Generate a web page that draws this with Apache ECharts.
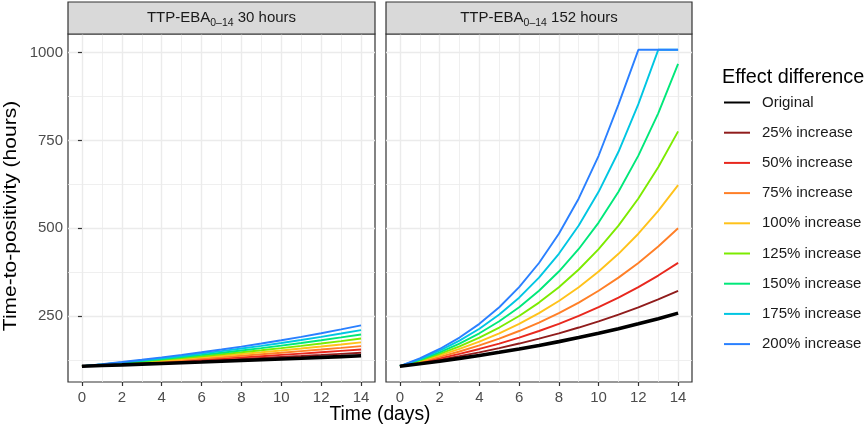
<!DOCTYPE html>
<html><head><meta charset="utf-8">
<script src="https://cdn.jsdelivr.net/npm/echarts@6/dist/echarts.min.js"></script>
<style>html,body{margin:0;padding:0;background:#fff}#c{width:865px;height:430px}</style>
</head><body><div id="c"></div>
<script>
// ---- data ----
const days = [0,1,2,3,4,5,6,7,8,9,10,11,12,13,14];
const seriesNames = ['Original','25% increase','50% increase','75% increase','100% increase','125% increase','150% increase','175% increase','200% increase'];
const panelTitles = ['30 hours','152 hours'];
const xTickValues = [0,2,4,6,8,10,12,14];
const yTickValues = [250,500,750,1000];

// TTP-EBA 30 hours panel
const h30_original = [107,108.9,110.8,112.8,114.8,116.8,118.8,120.9,123.1,125.3,127.5,129.7,132.0,134.3,136.7];
const h30_inc25  = [107,109.4,111.8,114.3,116.8,119.4,122.0,124.7,127.5,130.3,133.2,136.1,139.1,142.2,145.3];
const h30_inc50  = [107,109.8,112.8,115.8,118.8,122.0,125.3,128.6,132.0,135.5,139.1,142.8,146.6,150.5,154.5];
const h30_inc75  = [107,110.3,113.8,117.3,120.9,124.7,128.6,132.6,136.7,141.0,145.3,149.9,154.5,159.3,164.3];
const h30_inc100 = [107,110.8,114.8,118.8,123.1,127.5,132.0,136.7,141.6,146.6,151.8,157.3,162.9,168.7,174.7];
const h30_inc125 = [107,111.3,115.8,120.4,125.3,130.3,135.5,141.0,146.6,152.5,158.6,165.0,171.6,178.5,185.7];
const h30_inc150 = [107,111.8,116.8,122.0,127.5,133.2,139.1,145.3,151.8,158.6,165.7,173.1,180.9,189.0,197.4];
const h30_inc175 = [107,112.3,117.8,123.6,129.7,136.1,142.8,149.9,157.3,165.0,173.1,181.7,190.6,200.0,209.9];
const h30_inc200 = [107,112.8,118.8,125.3,132.0,139.1,146.6,154.5,162.9,171.6,180.9,190.6,200.9,211.7,223.1];

// TTP-EBA 152 hours panel
const h152_original = [107,113.9,121.3,129.2,137.6,146.5,156.1,166.2,177.0,188.5,200.7,213.7,227.6,242.4,258.1];
const h152_inc25  = [107,115.8,125.2,135.5,146.5,158.5,171.5,185.5,200.7,217.1,234.8,254.0,274.8,297.3,321.6];
const h152_inc50  = [107,117.6,129.2,142.0,156.1,171.5,188.5,207.2,227.7,250.2,275.0,302.2,332.2,365.1,401.2];
const h152_inc75  = [107,119.5,133.4,148.9,166.2,185.6,207.2,231.3,258.2,288.2,321.8,359.2,401.0,447.7,499.8];
const h152_inc100 = [107,121.3,137.6,156.1,177.0,200.7,227.6,258.1,292.7,332.0,376.5,427.0,484.2,549.1,622.7];
const h152_inc125 = [107,123.3,142.0,163.6,188.5,217.1,250.1,288.1,331.9,382.4,440.5,507.4,584.6,673.4,775.8];
const h152_inc150 = [107,125.2,146.6,171.5,200.7,234.9,275.0,321.8,376.6,440.8,515.9,603.8,706.6,827.0,967.9];
const h152_inc175 = [107,127.2,151.2,179.8,213.8,254.1,302.1,359.2,427.0,507.7,603.6,717.6,853.1,1008,1008];
const h152_inc200 = [107,129.2,156.1,188.5,227.6,274.9,332.0,400.9,484.2,584.7,706.2,852.8,1008,1008,1008];

const panel30 = [h30_original,h30_inc25,h30_inc50,h30_inc75,h30_inc100,h30_inc125,h30_inc150,h30_inc175,h30_inc200];
const panel152 = [h152_original,h152_inc25,h152_inc50,h152_inc75,h152_inc100,h152_inc125,h152_inc150,h152_inc175,h152_inc200];

// ---- style ----
const colors = ['#000000','#901C1C','#E8281E','#FF7F27','#FFC21A','#7CEB00','#00E87A','#00C6E2','#2A80FF'];
const FONT = 'Liberation Sans, Arial, sans-serif';
const xMinor = [1,3,5,7,9,11,13];
const yMinor = [125,375,625,875];
const XMIN = -0.7, XMAX = 14.7, YMIN = 62, YMAX = 1053;
const grids = [
  {left:68, top:34, width:307, height:348, show:true, borderColor:'#333333', borderWidth:1.2, backgroundColor:'transparent'},
  {left:386, top:34, width:306, height:348, show:true, borderColor:'#333333', borderWidth:1.2, backgroundColor:'transparent'}
];

const xAxes = [], yAxes = [];
[0,1].forEach(g => {
  xAxes.push({type:'value', gridIndex:g, min:XMIN, max:XMAX, position:'bottom',
    axisLine:{show:false},
    axisTick:{show:true, length:4, lineStyle:{color:'#333333', width:1.2}, customValues:xTickValues},
    axisLabel:{show:true, customValues:xTickValues, color:'#4D4D4D', fontSize:15, fontFamily:FONT, margin:8.5,
      formatter: v => String(v)},
    splitLine:{show:true, lineStyle:{color:'#EBEBEB', width:1.4}}, z:0});
  xAxes.push({type:'value', gridIndex:g, min:XMIN, max:XMAX, position:'bottom',
    axisLine:{show:false}, axisTick:{show:false, customValues:xMinor},
    axisLabel:{show:false, customValues:xMinor},
    splitLine:{show:true, lineStyle:{color:'#EBEBEB', width:0.8}}, z:0});
  yAxes.push({type:'value', gridIndex:g, min:YMIN, max:YMAX, position:'left',
    axisLine:{show:false},
    axisTick:{show:g===0, length:4, lineStyle:{color:'#333333', width:1.2}, customValues:yTickValues},
    axisLabel:{show:g===0, customValues:yTickValues, color:'#4D4D4D', fontSize:15, fontFamily:FONT, margin:5,
      formatter: v => String(v)},
    splitLine:{show:true, lineStyle:{color:'#EBEBEB', width:1.4}}, z:0});
  yAxes.push({type:'value', gridIndex:g, min:YMIN, max:YMAX, position:'right',
    axisLine:{show:false}, axisTick:{show:false, customValues:yMinor},
    axisLabel:{show:false, customValues:yMinor},
    splitLine:{show:true, lineStyle:{color:'#EBEBEB', width:0.8}}, z:0});
});

const series = [];
[panel30, panel152].forEach((panel, g) => {
  panel.forEach((vals, i) => {
    series.push({
      type:'line', name:seriesNames[i], xAxisIndex:g*2, yAxisIndex:g*2,
      data: days.map((d, k) => [d, vals[k]]),
      symbol:'none', smooth:false, silent:true,
      lineStyle:{color:colors[i], width: i===0 ? 3.6 : 1.9},
      itemStyle:{color:colors[i]},
      z: i===0 ? 3 : 2, animation:false
    });
  });
});

function stripText(cx, label) {
  return {type:'text', x:cx, y:18, z:10,
    style:{text:'TTP-EBA{s|0–14} ' + label, align:'center', verticalAlign:'middle',
      fontSize:15, fontFamily:FONT, fill:'#1A1A1A', lineHeight:21,
      rich:{s:{fontSize:10.5, fontFamily:FONT, fill:'#1A1A1A', verticalAlign:'bottom', lineHeight:11}}}};
}

const option = {
  animation:false,
  backgroundColor:'#ffffff',
  color: colors,
  grid: grids,
  xAxis: xAxes,
  yAxis: yAxes,
  series: series,
  title: {text:'Effect difference', left:722, top:68, padding:0, textStyle:{fontSize:19.8, fontWeight:'normal', color:'#000', fontFamily:FONT}},
  legend: {orient:'vertical', left:723, top:95, padding:0, itemWidth:26, itemHeight:14, itemGap:15.2,
    data: seriesNames, selectedMode:false, itemStyle:{opacity:0},
    textStyle:{fontSize:15, color:'#1A1A1A', fontFamily:FONT, padding:[0,0,0,7]}},
  graphic: [
    {type:'rect', z:9, shape:{x:68, y:2, width:307, height:32}, style:{fill:'#D9D9D9', stroke:'#333333', lineWidth:1.2}},
    {type:'rect', z:9, shape:{x:386, y:2, width:306, height:32}, style:{fill:'#D9D9D9', stroke:'#333333', lineWidth:1.2}},
    stripText(221.5, panelTitles[0]),
    stripText(539, panelTitles[1]),
    {type:'text', x:380, y:415, z:10, style:{text:'Time (days)', align:'center', verticalAlign:'middle', fontSize:19.3, fontFamily:FONT, fill:'#000'}},
    {type:'text', x:11, y:216, rotation:Math.PI/2, scaleX:1.2, z:10, style:{text:'Time-to-positivity (hours)', align:'center', verticalAlign:'middle', fontSize:17.5, fontFamily:FONT, fill:'#000'}}
  ]
};
const chart = echarts.init(document.getElementById('c'));
chart.setOption(option);
</script>
</body></html>
